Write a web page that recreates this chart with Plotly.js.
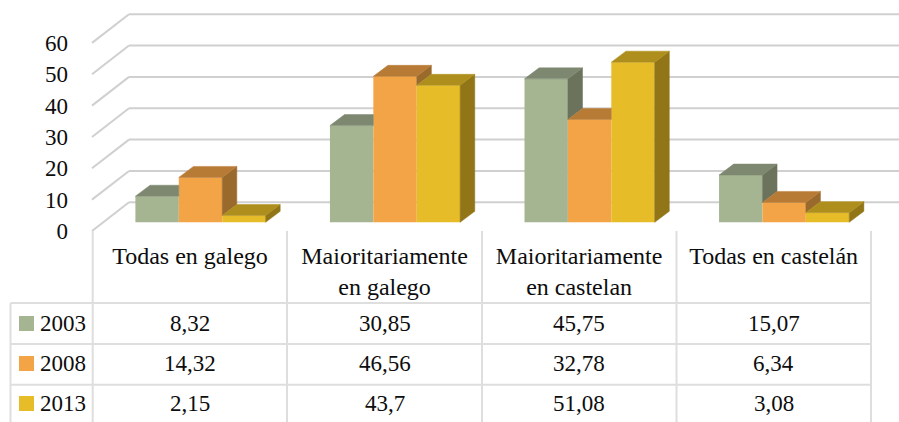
<!DOCTYPE html>
<html>
<head>
<meta charset="utf-8">
<script src="https://cdn.plot.ly/plotly-3.0.1.min.js"></script>
<style>html,body{margin:0;padding:0;background:#fff;overflow:hidden}#c{width:899px;height:422px}</style>
</head>
<body>
<div id="c"></div>
<script>
var categories = ['Todas en galego', 'Maioritariamente<br>en galego', 'Maioritariamente<br>en castelan', 'Todas en castelán'];
var years = ['2003', '2008', '2013'];
var v2003 = [8.32, 30.85, 45.75, 15.07];
var v2008 = [14.32, 46.56, 32.78, 6.34];
var v2013 = [2.15, 43.7, 51.08, 3.08];
var yTicks = [0, 10, 20, 30, 40, 50, 60];

var frontColors = ['#A5B592', '#F3A447', '#E7BC29'];
var topColors = ['#7E8870', '#B87B35', '#AE8F1D'];
var sideColors = ['#6B735D', '#9A6A2D', '#917516'];

var series = [v2003, v2008, v2013];
var W = 899, H = 422, L = 72, B = 191, plotW = W - L, plotH = H - B;
var catPx = 194.55, zeroCatPx = 200.5, yScale = 3.135, zeroPx = 222.3;
var barW = 43.4 / catPx, depthX = 14.6 / catPx, depthY = 11 / yScale;
var wallFrontY = -(231 - zeroPx) / yScale, wallBackY = (zeroPx - 202.3) / yScale;
var wallFrontX = (92 - zeroCatPx) / catPx, wallBackX = (129 - zeroCatPx) / catPx;
var labelShift = 10.5 / catPx;
var xs = categories.map(function (_, i) { return i; });
function px(p) { return (p - L) / plotW; }
function py(p) { return (plotH - p) / plotH; }

var traces = [];
series.forEach(function (vals, s) {
  traces.push({
    type: 'bar', name: years[s], x: xs, y: vals,
    marker: { color: frontColors[s], line: { color: frontColors[s], width: 0 } },
    hoverinfo: 'skip', showlegend: false
  });
});
function poly(pts, color) {
  traces.push({
    type: 'scatter', mode: 'lines', fill: 'toself', fillcolor: color,
    x: pts.map(function (p) { return p[0]; }), y: pts.map(function (p) { return p[1]; }),
    line: { color: color, width: 0.5 }, hoverinfo: 'skip', showlegend: false
  });
}
xs.forEach(function (c) {
  series.forEach(function (vals, s) {
    var v = vals[c];
    var next = s < series.length - 1 ? series[s + 1][c] : 0;
    var xl = c + (s - 1.5) * barW, xr = xl + barW;
    var base = Math.min(v, next);
    if (next < v) {
      poly([[xr, base], [xr + depthX, base + depthY], [xr + depthX, v + depthY], [xr, v], [xr, base]], sideColors[s]);
    }
    var end = next > v ? xr : xr + depthX;
    poly([[xl, v], [xl + depthX, v + depthY], [end, v + depthY], [xr, v], [xl, v]], topColors[s]);
  });
});

var shapes = [];
var gridColor = '#D0D0D0', tableColor = '#DEDEDE';
yTicks.forEach(function (t) {
  shapes.push({ type: 'line', layer: 'below', xref: 'x', yref: 'y', x0: wallFrontX, y0: t + wallFrontY, x1: wallBackX, y1: t + wallBackY, line: { color: gridColor, width: 2 } });
  shapes.push({ type: 'line', layer: 'below', xref: 'x', yref: 'y', x0: wallBackX, y0: t + wallBackY, x1: 5, y1: t + wallBackY, line: { color: gridColor, width: 2 } });
});
var tableVert = [92.7, 287, 482, 676.5, 871];
var rowLines = [303, 344, 384.7];
var rowCenters = [323.5, 363.5, 403.5];
tableVert.forEach(function (x) {
  shapes.push({ type: 'line', xref: 'paper', yref: 'paper', x0: px(x), x1: px(x), y0: py(231), y1: py(422), line: { color: tableColor, width: 2 } });
});
shapes.push({ type: 'line', xref: 'paper', yref: 'paper', x0: px(10.5), x1: px(10.5), y0: py(303), y1: py(422), line: { color: tableColor, width: 2 } });
rowLines.forEach(function (y) {
  shapes.push({ type: 'line', xref: 'paper', yref: 'paper', x0: px(10.5), x1: px(871), y0: py(y), y1: py(y), line: { color: tableColor, width: 2 } });
});
var annotations = [];
var font = { family: '"Liberation Serif", serif', size: 23, color: '#0D0D0D' };
years.forEach(function (yr, s) {
  shapes.push({ type: 'rect', xref: 'paper', yref: 'paper', x0: px(19), x1: px(34), y0: py(rowCenters[s] - 7.5), y1: py(rowCenters[s] + 7.5), fillcolor: frontColors[s], line: { width: 0 } });
  annotations.push({ xref: 'paper', yref: 'paper', x: px(63.4), y: py(rowCenters[s] - 0.5), text: yr, showarrow: false, font: font, xanchor: 'center', yanchor: 'middle' });
  series[s].forEach(function (v, c) {
    annotations.push({ xref: 'x', yref: 'paper', x: c - labelShift, y: py(rowCenters[s] - 0.5), text: String(v).replace('.', ','), showarrow: false, font: font, xanchor: 'center', yanchor: 'middle' });
  });
});

var layout = {
  width: W, height: H, showlegend: false, paper_bgcolor: '#fff', plot_bgcolor: '#fff',
  margin: { l: L, r: 0, t: 0, b: B, pad: 0 },
  barmode: 'group', bargap: 1 - 3 * barW, bargroupgap: 0,
  xaxis: {
    range: [(L - zeroCatPx) / catPx, (W - zeroCatPx) / catPx],
    tickmode: 'array', tickvals: xs.map(function (c) { return c - labelShift; }), ticktext: categories,
    showgrid: false, zeroline: false, showline: false, ticks: '', ticklabelstandoff: 8,
    tickangle: 0, tickfont: { family: font.family, size: 24, color: font.color }
  },
  yaxis: {
    range: [wallFrontY, zeroPx / yScale],
    tickmode: 'array', tickvals: yTicks.map(function (t) { return t + wallFrontY; }), ticktext: yTicks.map(String),
    showgrid: false, zeroline: false, showline: false, ticks: '', ticklabelstandoff: 3,
    tickfont: font
  },
  shapes: shapes, annotations: annotations
};
Plotly.newPlot('c', traces, layout, { displayModeBar: false, staticPlot: true });
</script>
</body>
</html>
